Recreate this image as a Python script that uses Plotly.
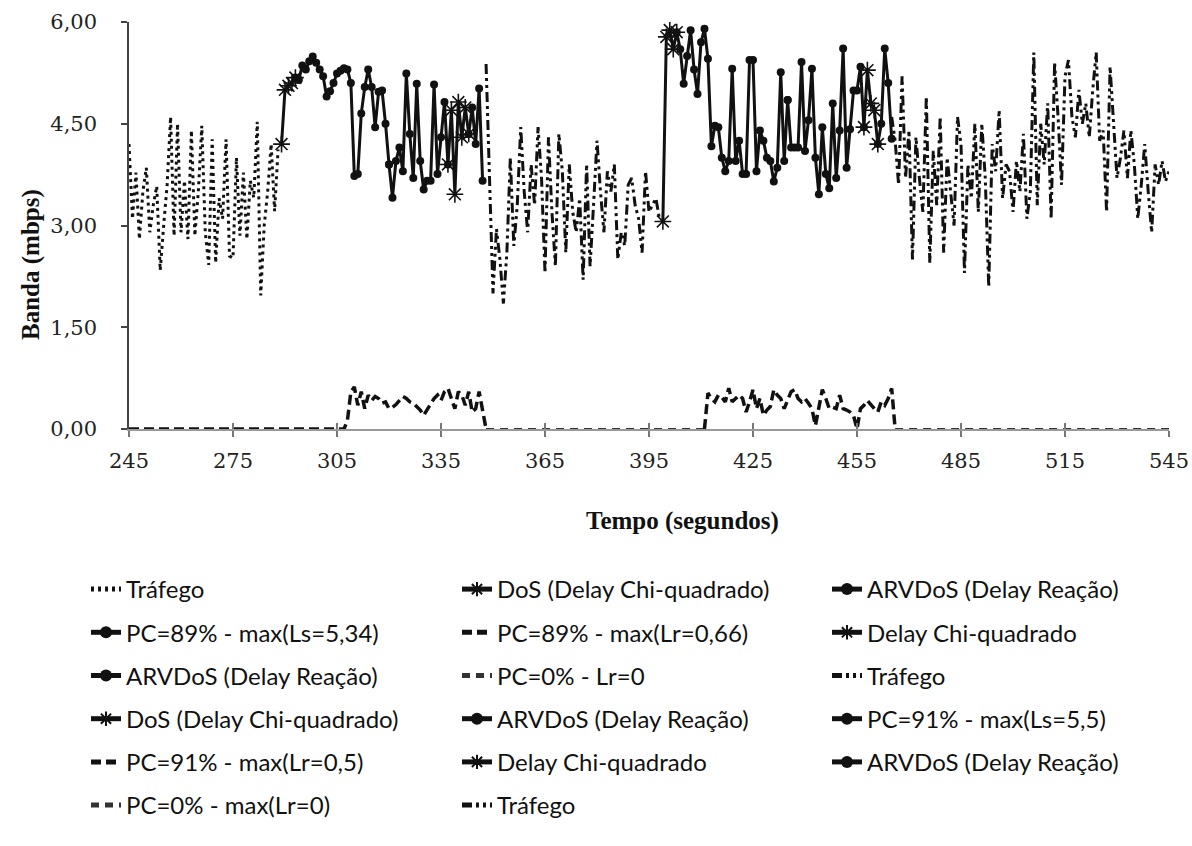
import plotly.graph_objects as go

# ---------------- data ----------------
# Tráfego (pontilhado), 1 amostra por segundo a partir de 245 s
traf1_start = 245
traf1_v = [4.2, 3.1, 3.78, 2.8, 3.5, 3.85, 2.9, 3.3, 3.58, 2.34, 3.0, 3.6, 4.6, 2.85, 4.5,
           2.9, 3.66, 2.8, 4.4, 2.85, 3.5, 4.47, 2.9, 2.42, 4.27, 2.45, 3.4, 3.1, 4.27, 2.55,
           2.52, 4.0, 2.85, 3.78, 2.8, 3.66, 3.41, 4.53, 1.97, 3.0, 3.5, 4.2, 3.21, 4.12]

# Ataque 1
dos1_start = 289
dos1_v = [4.2, 5.0, 5.06, 5.1, 5.18]
arv1_start = 293
arv1_v = [5.18, 5.15, 5.36, 5.3, 5.42, 5.49, 5.4, 5.3, 5.2, 4.9, 4.98, 5.1, 5.24, 5.28,
          5.32, 5.3, 5.1, 3.73, 3.76, 4.65, 5.04, 5.3, 5.04, 4.45, 4.97, 4.99, 4.5, 3.9]
pc89ls_start = 320
pc89ls_v = [3.9, 3.41, 3.95, 4.15, 3.8, 5.24, 4.35, 3.7, 5.09, 3.95, 3.53, 3.66, 3.66,
            5.08, 3.76, 4.3, 4.82, 3.9]
chi1_start = 337
chi1_v = [3.9, 4.7, 3.46, 4.82, 4.3, 4.74, 4.35]
arv1b_start = 343
arv1b_v = [4.35, 4.74, 4.2, 5.02, 3.66]

# PC=89% - max(Lr=0,66)
pc89lr_t = [245, 307]
pc89lr_v = [0.0, 0.0]
pc89lr_start = 308
pc89lr_v2 = [0.12, 0.55, 0.62, 0.35, 0.55, 0.3, 0.5, 0.42, 0.48, 0.45, 0.38, 0.4, 0.3, 0.32,
             0.36, 0.42, 0.48, 0.45, 0.4, 0.38, 0.33, 0.28, 0.2, 0.28, 0.38, 0.45, 0.5, 0.42,
             0.55, 0.6, 0.45, 0.3, 0.55, 0.5, 0.35, 0.55, 0.25, 0.3, 0.55, 0.3, 0.0]

# PC=0% - Lr=0
pc0_t = [348, 411]
pc0_v = [0.0, 0.0]

# Tráfego 2
traf2_start = 348
traf2_v = [5.38, 3.6, 2.0, 2.95, 2.5, 1.85, 2.6, 4.0, 2.7, 3.3, 4.45, 3.5, 2.9, 3.9, 3.3,
           4.45, 3.7, 2.3, 4.3, 3.2, 2.4, 4.35, 3.8, 2.6, 3.9, 3.2, 2.9, 3.4, 2.2, 3.9, 2.4,
           3.3, 4.25, 3.5, 2.9, 3.8, 3.5, 3.9, 2.5, 2.9, 2.7, 3.6, 3.7, 3.3, 3.1, 2.6, 3.8,
           3.2, 3.3, 3.4, 3.1, 3.06]

# Ataque 2
dos2_start = 399
dos2_v = [3.06, 5.78, 5.88, 5.6, 5.85]
arv2_start = 403
arv2_v = [5.85, 5.6, 5.09, 5.5, 5.88, 5.3, 4.94, 5.7, 5.9, 5.46, 4.17, 4.47, 4.45, 4.0, 3.8,
          3.95, 5.31, 3.95, 4.25, 3.76, 3.76, 5.44, 5.44, 3.8, 4.4, 4.25, 4.0, 3.95, 3.65,
          3.85, 5.26, 3.95, 4.85]
pc91ls_start = 435
pc91ls_v = [4.85, 4.15, 4.15, 4.15, 5.41, 4.1, 4.55, 5.31, 4.0, 3.46, 4.45, 3.76, 3.55, 4.8,
            3.7, 4.4, 5.61, 3.85, 4.42, 4.99, 4.99, 5.34, 4.45]
chi2_start = 457
chi2_v = [4.45, 5.29, 4.8, 4.7, 4.2]
arv2b_start = 461
arv2b_v = [4.2, 4.5, 5.61, 5.1, 4.28]

# PC=91% - max(Lr=0,5)
pc91lr_start = 411
pc91lr_v = [0.0, 0.53, 0.45, 0.4, 0.5, 0.47, 0.4, 0.6, 0.4, 0.45, 0.5, 0.45, 0.25, 0.4, 0.58,
            0.3, 0.45, 0.2, 0.28, 0.33, 0.58, 0.5, 0.45, 0.3, 0.42, 0.55, 0.58, 0.45, 0.4,
            0.45, 0.38, 0.3, 0.05, 0.35, 0.58, 0.45, 0.3, 0.32, 0.3, 0.5, 0.3, 0.28, 0.25,
            0.2, 0.0, 0.3, 0.35, 0.42, 0.35, 0.3, 0.25, 0.4, 0.35, 0.45, 0.6, 0.0]

# PC=0% - max(Lr=0)
pc0b_t = [466, 545]
pc0b_v = [0.0, 0.0]

# Tráfego 3
traf3_start = 465
traf3_v = [4.6, 4.25, 3.6, 5.2, 3.7, 4.4, 2.5, 4.3, 3.7, 3.2, 4.9, 2.45, 4.1, 3.3, 4.6, 2.6,
           4.0, 3.5, 3.0, 4.6, 4.2, 2.3, 3.9, 3.4, 4.5, 3.2, 4.5, 3.7, 2.1, 4.2, 3.8, 4.7,
           3.4, 3.9, 3.8, 3.2, 3.95, 3.5, 4.35, 3.1, 3.5, 5.55, 3.3, 4.5, 3.9, 4.8, 3.1, 5.4,
           4.6, 3.6, 5.2, 5.44, 4.6, 4.3, 5.0, 4.5, 4.8, 4.3, 5.0, 5.55, 4.25, 4.4, 3.2, 5.34,
           4.5, 3.7, 4.0, 4.4, 3.7, 4.4, 3.9, 3.1, 3.6, 4.2, 3.5, 2.9, 3.9, 3.6, 3.95, 3.65,
           3.8]

x_ticks = [245, 275, 305, 335, 365, 395, 425, 455, 485, 515, 545]
y_ticks = [0, 1.5, 3, 4.5, 6]


def secs(start, vals):
    return [start + i for i in range(len(vals))]


# ---------------- styles ----------------
K = "#111111"
DOT = dict(color=K, width=3, dash="3px,4px")
DDOT = dict(color=K, width=3, dash="10px,4px,3px,4px,3px,4px")
SOLID = dict(color=K, width=3)
DASH = dict(color=K, width=3.5, dash="10px,5px")
DASH_THIN = dict(color="#333333", width=2, dash="8px,6px")
M_DOT = dict(symbol="circle", size=8, color=K)
M_STAR = dict(symbol="asterisk-open", size=14, color=K, line=dict(color=K, width=1.6))

series = [
    ("Tráfego", secs(traf1_start, traf1_v), traf1_v, DOT, None),
    ("DoS (Delay Chi-quadrado)", secs(dos1_start, dos1_v), dos1_v, SOLID, M_STAR),
    ("ARVDoS (Delay Reação)", secs(arv1_start, arv1_v), arv1_v, SOLID, M_DOT),
    ("PC=89% - max(Ls=5,34)", secs(pc89ls_start, pc89ls_v), pc89ls_v, SOLID, M_DOT),
    ("PC=89% - max(Lr=0,66)", pc89lr_t + secs(pc89lr_start, pc89lr_v2), pc89lr_v + pc89lr_v2, DASH, None),
    ("Delay Chi-quadrado", secs(chi1_start, chi1_v), chi1_v, SOLID, M_STAR),
    ("ARVDoS (Delay Reação)", secs(arv1b_start, arv1b_v), arv1b_v, SOLID, M_DOT),
    ("PC=0% - Lr=0", pc0_t, pc0_v, DASH_THIN, None),
    ("Tráfego", secs(traf2_start, traf2_v), traf2_v, DDOT, None),
    ("DoS (Delay Chi-quadrado)", secs(dos2_start, dos2_v), dos2_v, SOLID, M_STAR),
    ("ARVDoS (Delay Reação)", secs(arv2_start, arv2_v), arv2_v, SOLID, M_DOT),
    ("PC=91% - max(Ls=5,5)", secs(pc91ls_start, pc91ls_v), pc91ls_v, SOLID, M_DOT),
    ("PC=91% - max(Lr=0,5)", secs(pc91lr_start, pc91lr_v), pc91lr_v, DASH, None),
    ("Delay Chi-quadrado", secs(chi2_start, chi2_v), chi2_v, SOLID, M_STAR),
    ("ARVDoS (Delay Reação)", secs(arv2b_start, arv2b_v), arv2b_v, SOLID, M_DOT),
    ("PC=0% - max(Lr=0)", pc0b_t, pc0b_v, DASH_THIN, None),
    ("Tráfego", secs(traf3_start, traf3_v), traf3_v, DDOT, None),
]

legend_ids = ["legend", "legend2", "legend3"]

fig = go.Figure()
for i, (name, xs, ys, line, marker) in enumerate(series):
    fig.add_trace(go.Scatter(
        x=xs, y=ys, name=name,
        mode="lines+markers" if marker else "lines",
        line=line, marker=marker,
        legend=legend_ids[i % 3], legendgroup=f"g{i}",
        hoverinfo="x+y+name",
    ))

# invisible trace to carry the overlay axis with inside ticks
fig.add_trace(go.Scatter(x=[245, 545], y=[-1, -1], xaxis="x2", mode="lines",
                         line=dict(width=0), showlegend=False, hoverinfo="skip"))

W, H = 1192, 846
L, R, T, B = 129, W - 1169, 22, H - 429

leg_font = dict(family="Lato, 'Open Sans', sans-serif", size=24, color="#111111")
leg_common = dict(xref="container", yref="container", xanchor="left", yanchor="top",
                  y=1 - 567 / H, font=leg_font, bgcolor="rgba(0,0,0,0)",
                  tracegroupgap=9, itemsizing="constant", orientation="v")

serif = "DejaVu Serif, 'Liberation Serif', serif"

fig.update_layout(
    width=W, height=H,
    margin=dict(l=L, r=R, t=T, b=B, autoexpand=False),
    paper_bgcolor="white", plot_bgcolor="white",
    separators=",.",
    showlegend=True,
    legend=dict(x=86 / W, **leg_common),
    legend2=dict(x=457 / W, **leg_common),
    legend3=dict(x=827 / W, **leg_common),
    xaxis=dict(range=[245, 545], tickvals=x_ticks, ticks="outside", ticklen=6,
               tickwidth=1.5, tickcolor="#777777", showline=True, linecolor="#999999",
               linewidth=2, showgrid=False, zeroline=False,
               tickfont=dict(family=serif, size=21, color="#222222"),
               ticklabelstandoff=6),
    xaxis2=dict(range=[245, 545], overlaying="x", anchor="y", tickvals=x_ticks,
                ticks="inside", ticklen=6, tickwidth=1.5, tickcolor="#777777",
                showticklabels=False, showline=False, showgrid=False, zeroline=False),
    yaxis=dict(range=[0, 6], tickvals=y_ticks, tickformat=".2f", ticks="outside",
               ticklen=6, tickwidth=1.5, tickcolor="#444444", showline=True,
               linecolor="#444444", linewidth=1.5, showgrid=False, zeroline=False,
               tickfont=dict(family=serif, size=21, color="#222222"),
               ticklabelstandoff=20),
    annotations=[
        dict(text="<b>Banda (mbps)</b>", xref="paper", yref="paper",
             x=(31 - L) / 1040, y=(429 - 265) / 407, textangle=-90, showarrow=False,
             xanchor="center", yanchor="middle",
             font=dict(family="'Liberation Serif', serif", size=25, color="#111111")),
        dict(text="<b>Tempo (segundos)</b>", xref="paper", yref="paper",
             x=(682 - L) / 1040, y=(429 - 521) / 407, showarrow=False,
             xanchor="center", yanchor="middle",
             font=dict(family="'Liberation Serif', serif", size=25, color="#111111")),
    ],
)

fig.write_html(
    "out.html",
    config={"displayModeBar": False},
    post_script="document.body.style.margin='0px';document.body.style.overflow='hidden';",
)
